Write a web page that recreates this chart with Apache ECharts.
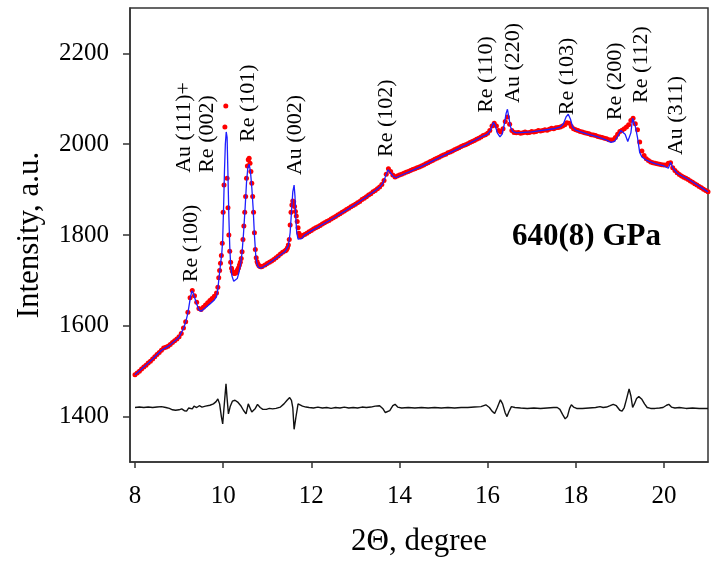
<!DOCTYPE html>
<html>
<head>
<meta charset="utf-8">
<script src="https://cdn.jsdelivr.net/npm/echarts@6/dist/echarts.min.js"></script>
<style>
html, body { margin: 0; background: #fff; }
#chart { width: 712px; height: 570px; }
</style>
</head>
<body>
<div id="chart"></div>
<script>
// observed pattern (red dots)
const obsTheta = [
  8, 8.05, 8.1, 8.15, 8.2, 8.25, 8.3, 8.35, 8.4, 8.45, 8.5, 8.55, 8.6, 8.65, 8.7, 8.75, 8.8, 8.85, 8.9, 8.95,
  9, 9.05, 9.1, 9.15, 9.2, 9.25, 9.3, 9.35, 9.4, 9.45, 9.5, 9.55, 9.6, 9.65, 9.7, 9.75, 9.8, 9.85,
  9.88, 9.9, 9.92, 9.94, 9.96, 9.98, 10, 10.02, 10.04, 10.06, 10.09, 10.11, 10.13, 10.15, 10.17, 10.19, 10.21, 10.23, 10.25, 10.27,
  10.29, 10.31, 10.33, 10.35, 10.37, 10.39, 10.41, 10.43, 10.45, 10.47, 10.49, 10.51, 10.53, 10.55, 10.57, 10.59, 10.61, 10.63, 10.65, 10.67,
  10.69, 10.71, 10.73, 10.75, 10.77, 10.79, 10.81, 10.83, 10.85, 10.87, 10.89,
  10.95, 11, 11.05, 11.1, 11.15, 11.2, 11.25, 11.3, 11.35, 11.4,
  11.42, 11.44, 11.46, 11.48, 11.5, 11.52, 11.54, 11.56, 11.58, 11.6, 11.62, 11.64, 11.66, 11.68, 11.7, 11.72, 11.74, 11.76, 11.78, 11.8,
  11.85, 11.9, 11.95, 12, 12.05, 12.1, 12.15, 12.2, 12.25, 12.3, 12.35, 12.4, 12.45, 12.5, 12.55, 12.6, 12.65, 12.7, 12.75, 12.8,
  12.85, 12.9, 12.95, 13, 13.05, 13.1, 13.15, 13.2, 13.25, 13.3, 13.35, 13.4, 13.45, 13.5, 13.55, 13.6, 13.65, 13.7, 13.75, 13.8,
  13.85, 13.9, 13.95, 14, 14.05, 14.1, 14.15, 14.2, 14.25, 14.3, 14.35, 14.4, 14.45, 14.5, 14.55, 14.6, 14.65, 14.7, 14.75, 14.8,
  14.85, 14.9, 14.95, 15, 15.05, 15.1, 15.15, 15.2, 15.25, 15.3, 15.35, 15.4, 15.45, 15.5, 15.55, 15.6, 15.65, 15.7, 15.75, 15.8,
  15.85, 15.9, 15.95, 16, 16.05, 16.1, 16.15, 16.2, 16.25, 16.3, 16.35, 16.4, 16.45, 16.5, 16.55, 16.6, 16.65, 16.7, 16.75, 16.8,
  16.85, 16.9, 16.95, 17, 17.05, 17.1, 17.15, 17.2, 17.25, 17.3, 17.35, 17.4, 17.45, 17.5, 17.55, 17.6, 17.65, 17.7, 17.75, 17.8,
  17.85, 17.9, 17.95, 18, 18.05, 18.1, 18.15, 18.2, 18.25, 18.3, 18.35, 18.4, 18.45, 18.5, 18.55, 18.6, 18.65, 18.7, 18.75, 18.8,
  18.85, 18.9, 18.95, 19, 19.05, 19.1, 19.15, 19.2, 19.25, 19.3, 19.35, 19.4, 19.45, 19.5, 19.55, 19.6, 19.65, 19.7, 19.75, 19.8,
  19.85, 19.9, 19.95, 20, 20.05, 20.1, 20.15, 20.2, 20.25, 20.3, 20.35, 20.4, 20.45, 20.5, 20.55, 20.6, 20.65, 20.7, 20.75, 20.8,
  20.85, 20.9, 20.95, 21
]
const observed = [
  1492, 1496, 1500, 1505, 1509, 1513, 1518, 1522, 1527, 1532, 1537, 1541, 1546, 1551, 1553, 1555, 1559, 1563, 1567, 1571,
  1576, 1583, 1595, 1609, 1630, 1662, 1678, 1666, 1652, 1638, 1636, 1641, 1646, 1651, 1656, 1660, 1665, 1672,
  1685, 1706, 1722, 1738, 1755, 1782, 1850, 1910, 2038, 2084, 1925, 1860, 1800, 1764, 1740, 1727, 1720, 1717, 1715, 1716,
  1717, 1720, 1724, 1728, 1734, 1740, 1748, 1763, 1790, 1820, 1850, 1885, 1925, 1952, 1966, 1969, 1958, 1940, 1914, 1885,
  1850, 1805, 1768, 1750, 1741, 1736, 1733, 1731, 1730, 1730, 1731,
  1734, 1737, 1740, 1743, 1746, 1750, 1754, 1758, 1762, 1765,
  1766, 1768, 1772, 1778, 1790, 1822, 1850, 1866, 1875, 1873, 1863, 1852, 1842, 1830, 1816, 1804, 1797, 1796, 1797, 1799,
  1801, 1804, 1807, 1810, 1813, 1816, 1818, 1821, 1824, 1827, 1830, 1832, 1835, 1838, 1841, 1844, 1847, 1850, 1853, 1856,
  1859, 1862, 1865, 1868, 1871, 1874, 1878, 1881, 1884, 1888, 1891, 1895, 1898, 1902, 1906, 1911, 1920, 1934, 1946, 1940,
  1932, 1928, 1930, 1932, 1934, 1936, 1938, 1940, 1942, 1944, 1946, 1948, 1950, 1952, 1954, 1957, 1959, 1962, 1964, 1967,
  1969, 1971, 1974, 1976, 1978, 1981, 1983, 1985, 1988, 1990, 1992, 1995, 1997, 1999, 2001, 2004, 2006, 2008, 2011, 2013,
  2016, 2019, 2021, 2024, 2030, 2040, 2046, 2040, 2030, 2027, 2034, 2050, 2060, 2044, 2030, 2026, 2025, 2026, 2024, 2025,
  2027, 2025, 2026, 2028, 2027, 2028, 2030, 2029, 2030, 2032, 2031, 2033, 2035, 2034, 2036, 2037, 2038, 2040, 2043, 2047,
  2046, 2039, 2034, 2032, 2030, 2028, 2027, 2025, 2024, 2023, 2021, 2020, 2019, 2017, 2016, 2015, 2013, 2012, 2010, 2009,
  2010, 2015, 2022, 2028, 2031, 2034, 2038, 2043, 2052, 2057, 2045, 2032, 2005, 1985, 1975, 1968, 1964, 1961, 1959, 1958,
  1957, 1956, 1955, 1954, 1954, 1958, 1959, 1948, 1942, 1937, 1933, 1930, 1927, 1925, 1922, 1919, 1916, 1913, 1910, 1907,
  1904, 1901, 1898, 1895
]

// calculated profile (blue line)
const calcTheta = [
  8, 8.2, 8.4, 8.6, 8.7, 8.8, 9, 9.1, 9.15, 9.2, 9.25, 9.29, 9.32, 9.36, 9.4, 9.45, 9.5, 9.6, 9.7, 9.8,
  9.85, 9.88, 9.9, 9.94, 9.97, 9.99, 10.01, 10.03, 10.05, 10.07, 10.08, 10.09, 10.11, 10.13, 10.15, 10.17, 10.2, 10.24, 10.28, 10.32,
  10.36, 10.4, 10.43, 10.46, 10.5, 10.53, 10.56, 10.59, 10.62, 10.65, 10.68, 10.71, 10.74, 10.77, 10.8, 10.85, 10.9, 11, 11.2, 11.4,
  11.48, 11.52, 11.55, 11.58, 11.61, 11.63, 11.65, 11.67, 11.7, 11.74, 11.78, 11.85, 12, 12.5, 13, 13.4, 13.55, 13.62, 13.68, 13.74,
  13.78, 13.85, 13.92, 14, 14.5, 15, 15.5, 15.9, 16, 16.06, 16.1, 16.13, 16.17, 16.22, 16.28, 16.33, 16.38, 16.42, 16.45, 16.48,
  16.52, 16.57, 16.65, 17, 17.5, 17.65, 17.72, 17.78, 17.83, 17.88, 17.93, 18, 18.25, 18.5, 18.7, 18.8, 18.88, 18.95, 19.02, 19.06,
  19.12, 19.18, 19.21, 19.25, 19.29, 19.31, 19.35, 19.4, 19.45, 19.5, 19.6, 19.8, 20, 20.1, 20.15, 20.2, 20.3, 20.6, 21
]
const calculated = [
  1492, 1509, 1527, 1546, 1552, 1558, 1575, 1594, 1608, 1628, 1658, 1677, 1672, 1660, 1648, 1635, 1632, 1640, 1648, 1657,
  1664, 1680, 1700, 1735, 1760, 1790, 1860, 1940, 2000, 2027, 2029, 2015, 1930, 1840, 1775, 1735, 1710, 1698, 1697, 1704,
  1718, 1738, 1762, 1800, 1862, 1915, 1948, 1956, 1940, 1905, 1860, 1800, 1755, 1736, 1729, 1727, 1729, 1735, 1749, 1763,
  1776, 1805, 1850, 1895, 1910, 1885, 1835, 1805, 1791, 1788, 1792, 1800, 1809, 1837, 1867, 1894, 1905, 1913, 1928, 1944,
  1942, 1930, 1926, 1930, 1951, 1975, 1998, 2018, 2022, 2030, 2040, 2048, 2042, 2025, 2016, 2022, 2045, 2068, 2077, 2060,
  2038, 2028, 2025, 2027, 2034, 2038, 2045, 2060, 2066, 2055, 2038, 2031, 2023, 2016, 2009, 2004, 2006, 2017, 2030, 2031,
  2022, 2006, 2002, 2025, 2057, 2059, 2040, 2015, 1982, 1972, 1965, 1957, 1952, 1947, 1960, 1948, 1936, 1920, 1895
]

// difference curve (black line)
const residTheta = [
  8, 8.1, 8.2, 8.3, 8.4, 8.5, 8.6, 8.7, 8.78, 8.85, 8.92, 9, 9.06, 9.12, 9.17, 9.22, 9.26, 9.3, 9.34, 9.4,
  9.46, 9.52, 9.6, 9.7, 9.78, 9.84, 9.88, 9.92, 9.96, 9.99, 10.02, 10.065, 10.09, 10.12, 10.16, 10.21, 10.27, 10.33, 10.4, 10.46,
  10.52, 10.57, 10.61, 10.65, 10.68, 10.73, 10.78, 10.84, 10.9, 10.98, 11.05, 11.12, 11.2, 11.3, 11.38, 11.45, 11.51, 11.55, 11.58, 11.61,
  11.65, 11.7, 11.74, 11.8, 11.88, 11.95, 12.05, 12.15, 12.25, 12.35, 12.45, 12.55, 12.65, 12.75, 12.85, 12.95, 13.05, 13.15, 13.25, 13.35,
  13.45, 13.55, 13.62, 13.68, 13.72, 13.78, 13.85, 13.9, 13.96, 14.05, 14.2, 14.35, 14.5, 14.65, 14.8, 14.95, 15.1, 15.25, 15.4, 15.55,
  15.7, 15.85, 15.96, 16.04, 16.1, 16.16, 16.22, 16.29, 16.34, 16.4, 16.44, 16.48, 16.54, 16.62, 16.75, 16.9, 17.05, 17.2, 17.35, 17.5,
  17.58, 17.64, 17.7, 17.76, 17.81, 17.86, 17.9, 17.95, 18.02, 18.15, 18.3, 18.45, 18.55, 18.62, 18.7, 18.78, 18.85, 18.92, 19, 19.05,
  19.1, 19.15, 19.21, 19.25, 19.29, 19.33, 19.38, 19.43, 19.5, 19.56, 19.62, 19.7, 19.8, 19.9, 19.98, 20.06, 20.11, 20.17, 20.25, 20.35,
  20.5, 20.65, 20.8, 20.95, 21
]
const residual = [
  1420, 1421, 1420, 1421, 1420, 1421, 1422, 1420, 1418, 1415, 1414, 1415, 1417, 1413, 1412, 1419, 1422, 1417, 1423, 1420,
  1424, 1421, 1423, 1425, 1428, 1433, 1439, 1428, 1400, 1384, 1420, 1472, 1440, 1406, 1422, 1434, 1436, 1432, 1424, 1414,
  1406, 1428, 1424, 1410, 1406, 1418, 1427, 1420, 1416, 1416, 1418, 1417, 1418, 1421, 1428, 1436, 1442, 1436, 1420, 1372,
  1398, 1428, 1431, 1423, 1421, 1420, 1419, 1421, 1419, 1420, 1418, 1420, 1419, 1421, 1419, 1420, 1419, 1421, 1420, 1421,
  1423, 1424, 1418, 1409, 1406, 1413, 1424, 1427, 1421, 1419, 1420, 1419, 1420, 1419, 1420, 1419, 1420, 1419, 1420, 1420,
  1421, 1422, 1426, 1420, 1412, 1407, 1420, 1437, 1428, 1408, 1400, 1410, 1422, 1420, 1419, 1418, 1419, 1418, 1419, 1420,
  1420, 1416, 1405, 1395, 1400, 1418, 1426, 1421, 1418, 1418, 1419, 1420, 1422, 1420, 1421, 1424, 1427, 1424, 1414, 1412,
  1420, 1438, 1461, 1446, 1420, 1428, 1440, 1444, 1438, 1428, 1420, 1418, 1418, 1419, 1420, 1425, 1427, 1421, 1419, 1420,
  1418, 1419, 1418, 1418, 1418
]

// reflection labels
const peakNames = ['Re (100)', 'Au (111)+\nRe (002)', 'Re (101)', 'Au (002)', 'Re (102)', 'Re (110)', 'Au (220)', 'Re (103)', 'Re (200)', 'Re (112)', 'Au (311)']
const peakTheta = [9.27, 9.37, 10.56, 11.63, 13.69, 15.96, 16.58, 17.8, 18.89, 19.48, 20.27]
const peakLabelAt = [1696, 1937, 2005, 1932, 1972, 2069, 2091, 2064, 2053, 2091, 1976]

const xTicks = [8, 10, 12, 14, 16, 18, 20]
const yTicks = [1400, 1600, 1800, 2000, 2200]

const serif = '"Liberation Serif", "Times New Roman", serif'
const ink = '#000'
const zip = (xs, ys) => xs.map((x, i) => [x, ys[i]])

const chart = echarts.init(document.getElementById('chart'))
chart.setOption({
  animation: false,
  backgroundColor: '#fff',
  grid: { left: 130, right: 4, top: 8, bottom: 108, show: true, borderColor: '#333', borderWidth: 1.5, outerBoundsMode: 'none' },
  xAxis: {
    type: 'value',
    min: 7.887,
    max: 21,
    name: '2\u0398, degree',
    nameLocation: 'middle',
    nameGap: 64,
    nameTextStyle: { fontFamily: serif, fontSize: 31, color: ink },
    axisLine: { lineStyle: { color: '#333', width: 1.5 } },
    axisTick: { customValues: xTicks, length: 6, lineStyle: { color: '#333', width: 1.5 } },
    axisLabel: { customValues: xTicks, margin: 22, fontFamily: serif, fontSize: 25, color: ink, formatter: v => String(v) },
    splitLine: { show: false }
  },
  yAxis: {
    type: 'value',
    min: 1300,
    max: 2300,
    name: 'Intensity, a.u.',
    nameLocation: 'middle',
    nameGap: 85,
    nameTextStyle: { fontFamily: serif, fontSize: 31, color: ink },
    axisLine: { show: true, lineStyle: { color: '#333', width: 1.5 } },
    axisTick: { show: true, customValues: yTicks, length: 7, lineStyle: { color: '#333', width: 1.5 } },
    axisLabel: { customValues: yTicks, margin: 21, fontFamily: serif, fontSize: 25, color: ink, formatter: v => String(v) },
    splitLine: { show: false }
  },
  graphic: [{
    type: 'text',
    left: 512,
    top: 221,
    style: { text: '640(8) GPa', font: 'bold 31px ' + serif, fill: '#000' }
  }],
  series: [
    {
      name: 'observed',
      type: 'scatter',
      symbolSize: 5,
      itemStyle: { color: '#ff0000', opacity: 1 },
      data: zip(obsTheta, observed),
      z: 2
    },
    {
      name: 'calculated',
      type: 'line',
      symbol: 'none',
      lineStyle: { color: '#1e1eff', width: 1.3 },
      data: zip(calcTheta, calculated),
      z: 3
    },
    {
      name: 'difference',
      type: 'line',
      symbol: 'none',
      lineStyle: { color: '#111', width: 1.4 },
      data: zip(residTheta, residual),
      z: 3
    },
    {
      name: 'labels',
      type: 'scatter',
      symbolSize: 0.1,
      silent: true,
      itemStyle: { color: 'transparent' },
      data: peakTheta.map((x, i) => ({ value: [x, peakLabelAt[i]], name: peakNames[i] })),
      label: {
        show: true,
        position: 'inside',
        rotate: 90,
        align: 'left',
        verticalAlign: 'middle',
        formatter: p => p.name,
        fontFamily: serif,
        fontSize: 22,
        lineHeight: 23,
        color: ink,
        opacity: 1,
        textBorderWidth: 0
      },
      z: 4
    }
  ]
})
</script>
</body>
</html>
